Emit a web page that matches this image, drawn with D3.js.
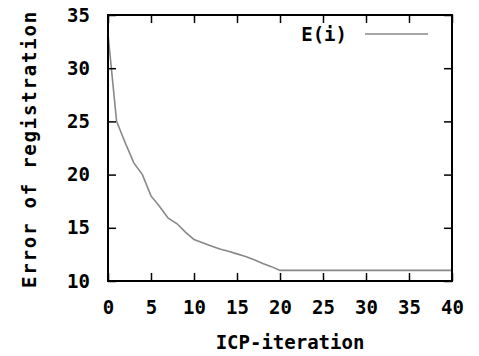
<!DOCTYPE html>
<html>
<head>
<meta charset="utf-8">
<script src="https://cdn.jsdelivr.net/npm/d3@7"></script>
<style>
  body { margin: 0; background: #fff; }
  text { font-family: "DejaVu Sans Mono", monospace; font-weight: bold; fill: #000; }
</style>
</head>
<body>
<div id="chart"></div>
<script>
// iteration index and registration error
var iterations = d3.range(0, 41);
var errors = [33.2, 25.0, 23.0, 21.1, 20.0, 18.0, 17.0, 15.9, 15.4, 14.6,
              13.9, 13.6, 13.3, 13.0, 12.8, 12.55, 12.3, 12.0, 11.65, 11.35,
              11.0, 11.0, 11.0, 11.0, 11.0, 11.0, 11.0, 11.0, 11.0, 11.0,
              11.0, 11.0, 11.0, 11.0, 11.0, 11.0, 11.0, 11.0, 11.0, 11.0, 11.0];
var xTicks = [0, 5, 10, 15, 20, 25, 30, 35, 40];
var yTicks = [10, 15, 20, 25, 30, 35];
var seriesName = "E(i)";

var W = 479, H = 356;
// note: "top" is taken by window.top, so use plot* names
var plotL = 108, plotR = 452, plotT = 15, plotB = 281;

var svg = d3.select('#chart').append('svg')
    .attr('width', W)
    .attr('height', H);

var x = d3.scaleLinear().domain([0, 40]).range([plotL, plotR]);
var y = d3.scaleLinear().domain([10, 35]).range([plotB, plotT]);

// the curve
var line = d3.line()
    .x(function(d, i) { return x(iterations[i]); })
    .y(function(d) { return y(d); });

svg.append('path')
    .datum(errors)
    .attr('d', line)
    .attr('fill', 'none')
    .attr('stroke', '#888')
    .attr('stroke-width', 1.6);

// axes, ticks point inward like gnuplot
function style(g) {
  g.select('.domain').remove();
  g.selectAll('.tick line').attr('stroke', '#000').attr('stroke-width', 1.5);
  g.selectAll('.tick text').style('font-size', '19px');
}

svg.append('g')
    .attr('transform', 'translate(0,' + plotB + ')')
    .call(d3.axisBottom(x).tickValues(xTicks).tickSize(-8).tickPadding(20).tickFormat(d3.format('d')))
    .call(style);

svg.append('g')
    .attr('transform', 'translate(0,' + plotT + ')')
    .call(d3.axisTop(x).tickValues(xTicks).tickSize(-8).tickFormat(''))
    .call(style);

svg.append('g')
    .attr('transform', 'translate(' + plotL + ',0)')
    .call(d3.axisLeft(y).tickValues(yTicks).tickSize(-8).tickPadding(18).tickFormat(d3.format('d')))
    .call(style);

svg.append('g')
    .attr('transform', 'translate(' + plotR + ',0)')
    .call(d3.axisRight(y).tickValues(yTicks).tickSize(-8).tickFormat(''))
    .call(style);

// frame
svg.append('rect')
    .attr('x', plotL)
    .attr('y', plotT)
    .attr('width', plotR - plotL)
    .attr('height', plotB - plotT)
    .attr('fill', 'none')
    .attr('stroke', '#000')
    .attr('stroke-width', 2);

// legend
svg.append('text')
    .attr('x', 347)
    .attr('y', 34)
    .attr('dy', '0.35em')
    .attr('text-anchor', 'end')
    .style('font-size', '19px')
    .text(seriesName);

svg.append('line')
    .attr('x1', 365).attr('x2', 428)
    .attr('y1', 34).attr('y2', 34)
    .attr('stroke', '#888')
    .attr('stroke-width', 1.6);

// axis titles
svg.append('text')
    .attr('x', (plotL + plotR) / 2 + 10)
    .attr('y', 342)
    .attr('dy', '0.35em')
    .attr('text-anchor', 'middle')
    .style('font-size', '19px')
    .text('ICP-iteration');

svg.append('text')
    .attr('transform', 'translate(29,149) rotate(-90)')
    .attr('dy', '0.35em')
    .attr('text-anchor', 'middle')
    .style('font-size', '19px')
    .style('letter-spacing', '1.8px')
    .text('Error of registration');
</script>
</body>
</html>
